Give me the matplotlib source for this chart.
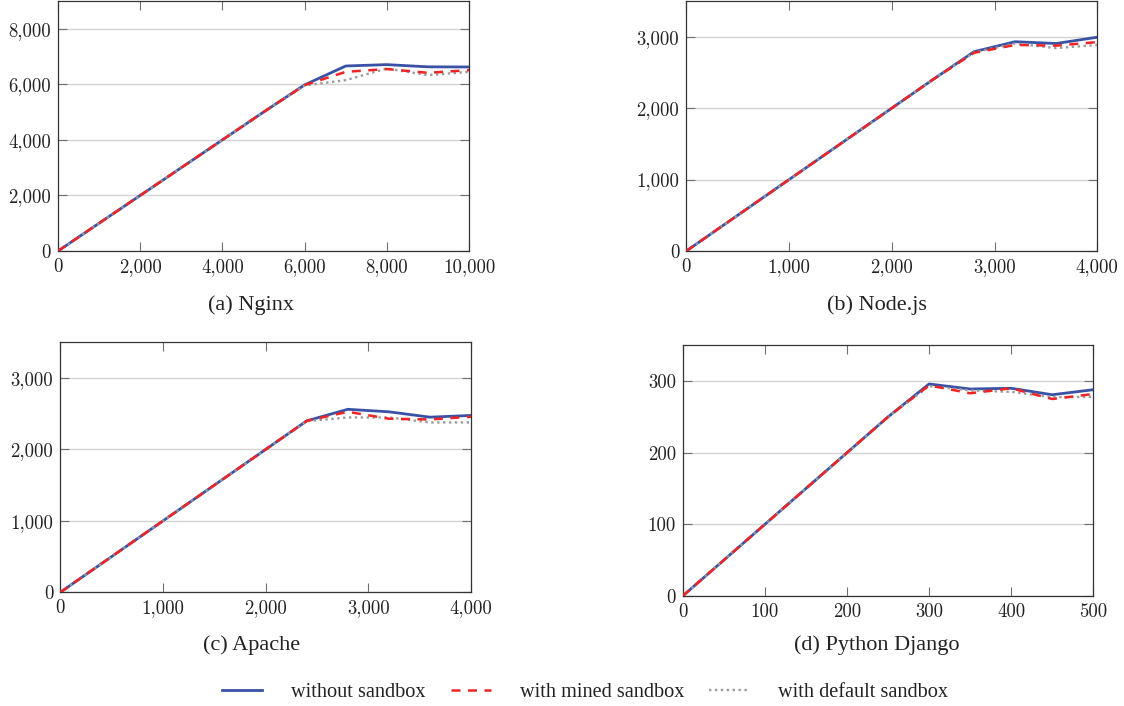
import matplotlib
matplotlib.use("Agg")
import matplotlib.pyplot as plt
from matplotlib.ticker import FuncFormatter, MultipleLocator
from matplotlib.lines import Line2D

# ---------------- data ----------------
series_labels = ["without sandbox", "with mined sandbox", "with default sandbox"]
captions = ["(a) Nginx", "(b) Node.js", "(c) Apache", "(d) Python Django"]

nginx_x = [0, 1000, 2000, 3000, 4000, 5000, 6000, 7000, 8000, 9000, 10000]
nginx_without = [0, 1000, 2000, 3000, 4000, 5000, 5980, 6660, 6710, 6630, 6625]
nginx_mined = [0, 1000, 2000, 3000, 4000, 5000, 5970, 6450, 6550, 6415, 6510]
nginx_default = [0, 1000, 2000, 3000, 4000, 5000, 5960, 6150, 6570, 6330, 6450]

node_x = [0, 400, 800, 1200, 1600, 2000, 2400, 2800, 3200, 3600, 4000]
node_without = [0, 400, 800, 1200, 1600, 2000, 2400, 2790, 2930, 2905, 2993]
node_mined = [0, 400, 800, 1200, 1600, 2000, 2400, 2775, 2885, 2875, 2925]
node_default = [0, 400, 800, 1200, 1600, 2000, 2400, 2780, 2905, 2840, 2885]

apache_x = [0, 400, 800, 1200, 1600, 2000, 2400, 2800, 3200, 3600, 4000]
apache_without = [0, 400, 800, 1200, 1600, 2000, 2400, 2562, 2527, 2452, 2476]
apache_mined = [0, 400, 800, 1200, 1600, 2000, 2400, 2527, 2430, 2420, 2457]
apache_default = [0, 400, 800, 1200, 1600, 2000, 2395, 2448, 2448, 2378, 2378]

django_x = [0, 50, 100, 150, 200, 250, 300, 350, 400, 450, 500]
django_without = [0, 50, 100, 150, 200, 250, 296, 289, 290, 281, 288]
django_mined = [0, 50, 100, 150, 200, 250, 294, 283, 290, 275, 282]
django_default = [0, 50, 100, 150, 200, 250, 293, 287, 285, 277.5, 278]

panels = [
    (nginx_x, [nginx_without, nginx_mined, nginx_default], (0, 10000), (0, 9000), 2000, 2000),
    (node_x, [node_without, node_mined, node_default], (0, 4000), (0, 3500), 1000, 1000),
    (apache_x, [apache_without, apache_mined, apache_default], (0, 4000), (0, 3500), 1000, 1000),
    (django_x, [django_without, django_mined, django_default], (0, 500), (0, 350), 100, 100),
]

# ---------------- layout ----------------
W, H = 1124, 706
fig = plt.figure(figsize=(W / 100, H / 100), dpi=100)

def rect(l, r, t, b):
    return [l / W, 1 - b / H, (r - l) / W, (b - t) / H]

rects = [
    rect(58, 469, 1, 251),
    rect(686.3, 1097.3, 1, 251),
    rect(60.3, 471, 342.3, 592.3),
    rect(682.7, 1093.3, 345.3, 596),
]
cap_pos = [(251, 305), (877, 305), (252, 645), (877, 645)]

colors = ["#3a52a6", "#f02424", "#9a9a9a"]
tick_font = "cmr10"
fmt = FuncFormatter(lambda v, p: f"{int(round(v)):,}")

for i, (xs, ys, xl, yl, xstep, ystep) in enumerate(panels):
    ax = fig.add_axes(rects[i])
    ax.plot(xs, ys[2], color=colors[2], lw=1.7, linestyle=(0, (1.0, 1.5)), zorder=3)
    ax.plot(xs, ys[1], color=colors[1], lw=1.8, linestyle=(0, (3.6, 3.0)), zorder=4)
    ax.plot(xs, ys[0], color=colors[0], lw=2.0, zorder=2)
    ax.set_xlim(*xl)
    ax.set_ylim(*yl)
    ax.xaxis.set_major_locator(MultipleLocator(xstep))
    ax.yaxis.set_major_locator(MultipleLocator(ystep))
    ax.xaxis.set_major_formatter(fmt)
    ax.yaxis.set_major_formatter(fmt)
    ax.grid(axis="y", color="#d4d4d4", lw=1.0, zorder=0)
    ax.set_axisbelow(True)
    ax.tick_params(direction="in", length=6.5, width=0.8, color="#707070",
                   top=True, right=True, labelsize=13.5, pad=5)
    for lab in ax.get_xticklabels() + ax.get_yticklabels():
        lab.set_fontfamily(tick_font)
        lab.set_color("#222222")
    for s in ax.spines.values():
        s.set_color("#333333")
        s.set_linewidth(0.9)
    cx, cy = cap_pos[i]
    fig.text(cx / W, 1 - cy / H, captions[i], ha="center", va="center",
             fontfamily="Liberation Serif", fontsize=16, color="#222222")

handles = [
    Line2D([], [], color=colors[0], lw=2.0),
    Line2D([], [], color=colors[1], lw=1.8, linestyle=(0, (3.6, 3.0))),
    Line2D([], [], color=colors[2], lw=1.7, linestyle=(0, (1.0, 1.5))),
]
fig.legend(handles, series_labels, loc="center", bbox_to_anchor=(585 / W, 1 - 692 / H),
           ncol=3, frameon=False, prop={"family": "Liberation Serif", "size": 14.6},
           handlelength=2.0, handletextpad=1.4, columnspacing=1.25, labelcolor="#222222")

fig.savefig("out.png", dpi=100)
